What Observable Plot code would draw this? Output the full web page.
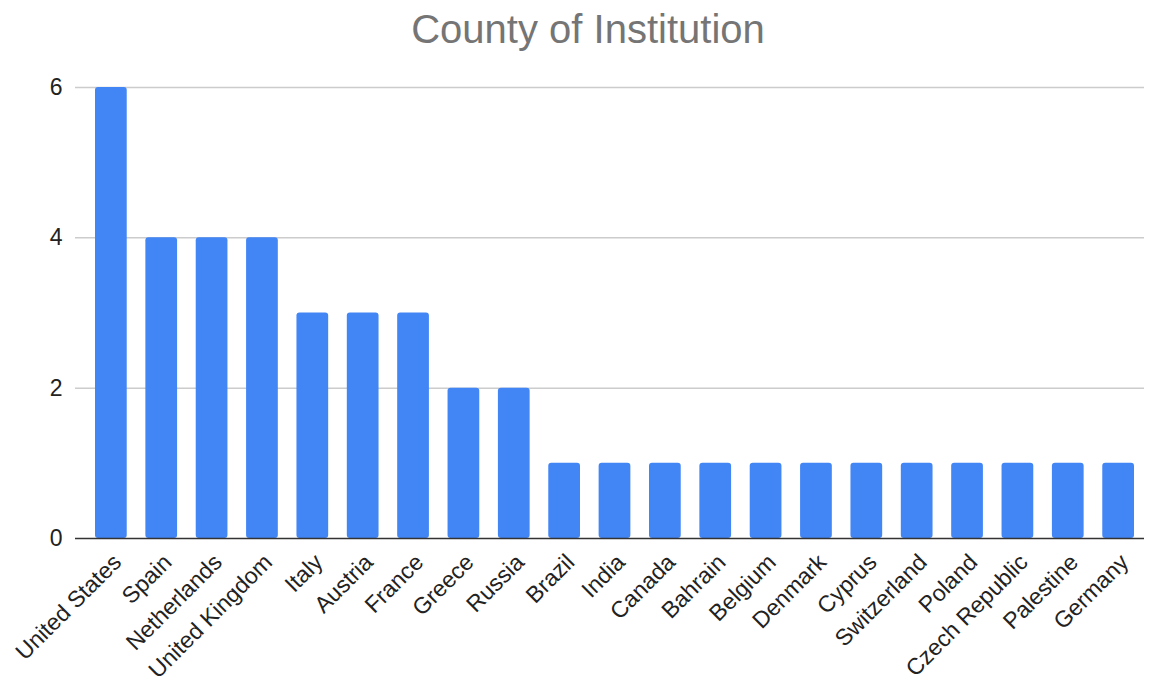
<!DOCTYPE html>
<html>
<head>
<meta charset="utf-8">
<script src="https://cdn.jsdelivr.net/npm/d3@7"></script>
<script src="https://cdn.jsdelivr.net/npm/@observablehq/plot@0.6"></script>
<style>
  html, body { margin: 0; padding: 0; background: #fff; }
  body { width: 1152px; font-family: "Liberation Sans", Arial, sans-serif; }
  #title {
    height: 60px;
    line-height: 58px;
    text-align: center;
    font-size: 40px;
    color: #757575;
    padding-left: 24px;
  }
</style>
</head>
<body>
<div id="title">County of Institution</div>
<div id="chart"></div>
<script>
// Countries of the authors' institutions and how many come from each
const countries = [
  "United States", "Spain", "Netherlands", "United Kingdom", "Italy", "Austria",
  "France", "Greece", "Russia", "Brazil", "India", "Canada", "Bahrain", "Belgium",
  "Denmark", "Cyprus", "Switzerland", "Poland", "Czech Republic", "Palestine", "Germany"
];
const counts = [6, 4, 4, 4, 3, 3, 3, 2, 2, 1, 1, 1, 1, 1, 1, 1, 1, 1, 1, 1, 1];
const yTicks = [0, 2, 4, 6];

const data = countries.map((country, i) => ({country, count: counts[i]}));

const chart = Plot.plot({
  width: 1152,
  height: 624,
  marginTop: 27,
  marginBottom: 146,
  marginLeft: 95,
  marginRight: 18,
  style: {fontFamily: "'Liberation Sans', Arial, sans-serif", color: "#222"},
  x: {domain: countries, paddingInner: 0.37, paddingOuter: 0, round: false, label: null},
  y: {domain: [0, 6], ticks: yTicks, label: null},
  marks: [
    Plot.ruleY(yTicks.slice(1), {stroke: "#cccccc", strokeWidth: 1.5, insetLeft: -20, insetRight: -10}),
    Plot.barY(data, {x: "country", y: "count", fill: "#4285f4", rx: 3}),
    Plot.ruleY([0], {stroke: "#333333", strokeWidth: 1.5, insetLeft: -20, insetRight: -10}),
    Plot.axisY({ticks: yTicks, tickFormat: d3.format("d"), tickSize: 0, tickPadding: 33, fontSize: 23, label: null}),
    Plot.axisX({tickSize: 0, tickPadding: 20, dx: 6, tickRotate: -45, fontSize: 23, label: null})
  ]
});
document.getElementById("chart").appendChild(chart);
</script>
</body>
</html>
